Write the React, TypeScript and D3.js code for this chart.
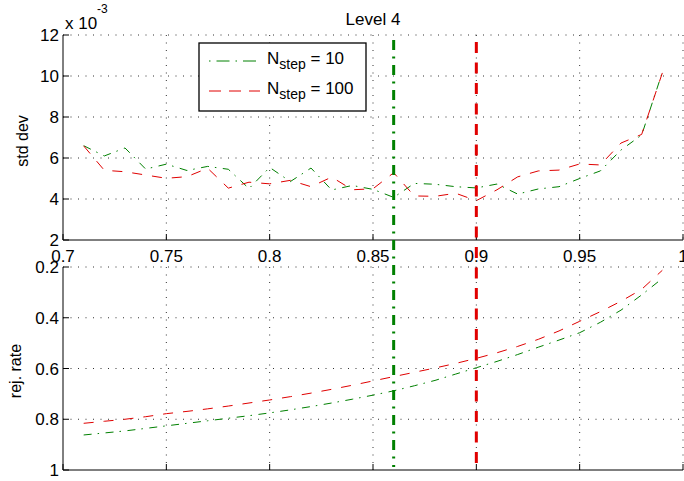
import React from 'react';
import * as d3 from 'd3';

const xVals = [0.71, 0.72, 0.73, 0.74, 0.75, 0.76, 0.77, 0.78, 0.79, 0.8, 0.81, 0.82, 0.83, 0.84, 0.85, 0.86, 0.87, 0.88, 0.89, 0.9, 0.91, 0.92, 0.93, 0.94, 0.95, 0.96, 0.97, 0.98, 0.99];
// std dev (x 1e-3)
const stdN10 = [6.6, 6.1, 6.49, 5.46, 5.7, 5.39, 5.59, 5.45, 4.51, 5.54, 4.85, 5.51, 4.44, 4.66, 4.47, 4.08, 4.76, 4.72, 4.6, 4.54, 4.73, 4.24, 4.49, 4.6, 5.0, 5.37, 6.39, 7.12, 10.18];
const stdN100 = [6.59, 5.4, 5.33, 5.17, 5.01, 5.09, 5.5, 4.53, 4.82, 4.74, 4.91, 4.6, 5.07, 4.45, 4.5, 5.28, 4.15, 4.13, 4.28, 3.92, 4.45, 5.08, 5.37, 5.41, 5.71, 5.66, 6.73, 7.15, 10.15];
// rejection rate
const rejN10 = [0.862, 0.854, 0.846, 0.836, 0.826, 0.816, 0.806, 0.796, 0.786, 0.775, 0.763, 0.75, 0.736, 0.721, 0.705, 0.688, 0.668, 0.647, 0.622, 0.597, 0.572, 0.545, 0.516, 0.488, 0.459, 0.418, 0.37, 0.31, 0.245];
const rejN100 = [0.816, 0.808, 0.8, 0.79, 0.778, 0.769, 0.759, 0.748, 0.736, 0.724, 0.711, 0.697, 0.682, 0.666, 0.649, 0.632, 0.615, 0.598, 0.58, 0.56, 0.538, 0.513, 0.485, 0.452, 0.414, 0.376, 0.335, 0.288, 0.213];

const xTicks = [0.7, 0.75, 0.8, 0.85, 0.9, 0.95, 1];
const xTickLabels = ['0.7', '0.75', '0.8', '0.85', '0.9', '0.95', '1'];
const stdTicks = [2, 4, 6, 8, 10, 12];
const rejTicks = [0.2, 0.4, 0.6, 0.8, 1];
const rejTickLabels = ['0.2', '0.4', '0.6', '0.8', '1'];
const markerX = [0.86, 0.9];
const seriesNames = ['10', '100'];

const GREEN = '#008000';
const RED = '#e00000';
const FONT = '"Liberation Sans", Arial, Helvetica, sans-serif';

const L = 63, R = 683;
const T1 = 35, B1 = 240, T2 = 267, B2 = 470;

export default function App() {
  const x = d3.scaleLinear().domain([0.7, 1.0]).range([L, R]);
  const yS = d3.scaleLinear().domain([2, 12]).range([B1, T1]);
  const yR = d3.scaleLinear().domain([0.2, 1.0]).range([T2, B2]);

  const lineS = (vals: number[]) =>
    d3.line<number>().x((_, i) => x(xVals[i])).y((d) => yS(d))(vals) || '';
  const lineR = (vals: number[]) =>
    d3.line<number>().x((_, i) => x(xVals[i])).y((d) => yR(d))(vals) || '';

  const gridStyle = { stroke: '#333', strokeWidth: 1, strokeDasharray: '1 6.5' };
  const greenDash = '8 6 1.5 6.5';
  const redDash = '10 10';

  const grid = (top: number, bot: number, yTicksPx: number[]) => (
    <g>
      {xTicks.slice(1).map((t, i) => (
        <line key={'v' + i} x1={x(t)} x2={x(t)} y1={top} y2={bot} style={gridStyle} />
      ))}
      {yTicksPx.map((py, i) => (
        <line key={'h' + i} x1={L} x2={R} y1={py} y2={py} style={gridStyle} />
      ))}
    </g>
  );

  return (
    <svg width={684} height={481} style={{ position: 'absolute', left: 0, top: 0, background: '#fff' }} fontFamily={FONT}>
      <rect x={0} y={0} width={684} height={481} fill="#fff" />
      {grid(T1, B1, stdTicks.slice(1).map((t) => yS(t)))}
      {grid(T2, B2, rejTicks.slice(0, -1).map((t) => yR(t)))}

      {/* axes top */}
      <line x1={L} x2={L} y1={T1} y2={B1} stroke="#000" strokeWidth={1} />
      <line x1={L} x2={R} y1={B1} y2={B1} stroke="#000" strokeWidth={1} />
      {stdTicks.map((t, i) => (
        <g key={'ys' + i}>
          <line x1={L} x2={L + 6} y1={yS(t)} y2={yS(t)} stroke="#000" />
          <text x={59} y={yS(t)} dy="0.36em" textAnchor="end" fontSize={17}>{t}</text>
        </g>
      ))}
      {xTicks.map((t, i) => (
        <g key={'xs' + i}>
          <line x1={x(t)} x2={x(t)} y1={B1} y2={B1 - 6} stroke="#000" />
          <text x={x(t)} y={262} textAnchor="middle" fontSize={17}>{xTickLabels[i]}</text>
        </g>
      ))}
      {/* axes bottom */}
      <line x1={L} x2={L} y1={T2} y2={B2} stroke="#000" strokeWidth={1} />
      <line x1={L} x2={R} y1={B2} y2={B2} stroke="#000" strokeWidth={1} />
      {rejTicks.map((t, i) => (
        <g key={'yr' + i}>
          <line x1={L} x2={L + 6} y1={yR(t)} y2={yR(t)} stroke="#000" />
          <text x={59} y={yR(t)} dy="0.36em" textAnchor="end" fontSize={17}>{rejTickLabels[i]}</text>
        </g>
      ))}
      {xTicks.map((t, i) => (
        <line key={'xr' + i} x1={x(t)} x2={x(t)} y1={B2} y2={B2 - 6} stroke="#000" />
      ))}

      {/* labels */}
      <text x={373} y={25} textAnchor="middle" fontSize={17}>Level 4</text>
      <text x={65} y={29} fontSize={17}>x 10</text>
      <text x={97} y={13} fontSize={12}>-3</text>
      <text transform={`translate(28,141) rotate(-90)`} textAnchor="middle" fontSize={16}>std dev</text>
      <text transform={`translate(21,371) rotate(-90)`} textAnchor="middle" fontSize={16}>rej. rate</text>

      {/* series top */}
      <path d={lineS(stdN10)} fill="none" stroke={GREEN} strokeWidth={1} strokeDasharray={greenDash} />
      <path d={lineS(stdN100)} fill="none" stroke={RED} strokeWidth={1} strokeDasharray={redDash} />
      {/* series bottom */}
      <path d={lineR(rejN10)} fill="none" stroke={GREEN} strokeWidth={1} strokeDasharray={greenDash} />
      <path d={lineR(rejN100)} fill="none" stroke={RED} strokeWidth={1} strokeDasharray={redDash} />

      {/* vertical markers */}
      <line x1={x(markerX[0])} x2={x(markerX[0])} y1={40} y2={467} stroke={GREEN} strokeWidth={3} strokeDasharray="10 6.5 2 6.5" />
      <line x1={x(markerX[1])} x2={x(markerX[1])} y1={42} y2={467} stroke={RED} strokeWidth={3} strokeDasharray="11 9.5" />

      {/* legend */}
      <rect x={199} y={43} width={167} height={68} fill="#fff" stroke="#000" strokeWidth={1.3} />
      <line x1={209} x2={260} y1={61} y2={61} stroke={GREEN} strokeWidth={1} strokeDasharray="1.5 6 13 6" />
      <line x1={209} x2={260} y1={91} y2={91} stroke={RED} strokeWidth={1} strokeDasharray="12 8" />
      {seriesNames.map((n, i) => (
        <text key={'lg' + i} x={267} y={63.5 + i * 30} fontSize={17}>
          N<tspan fontSize={14} dy={5}>step</tspan><tspan dy={-5}> = {n}</tspan>
        </text>
      ))}
    </svg>
  );
}
